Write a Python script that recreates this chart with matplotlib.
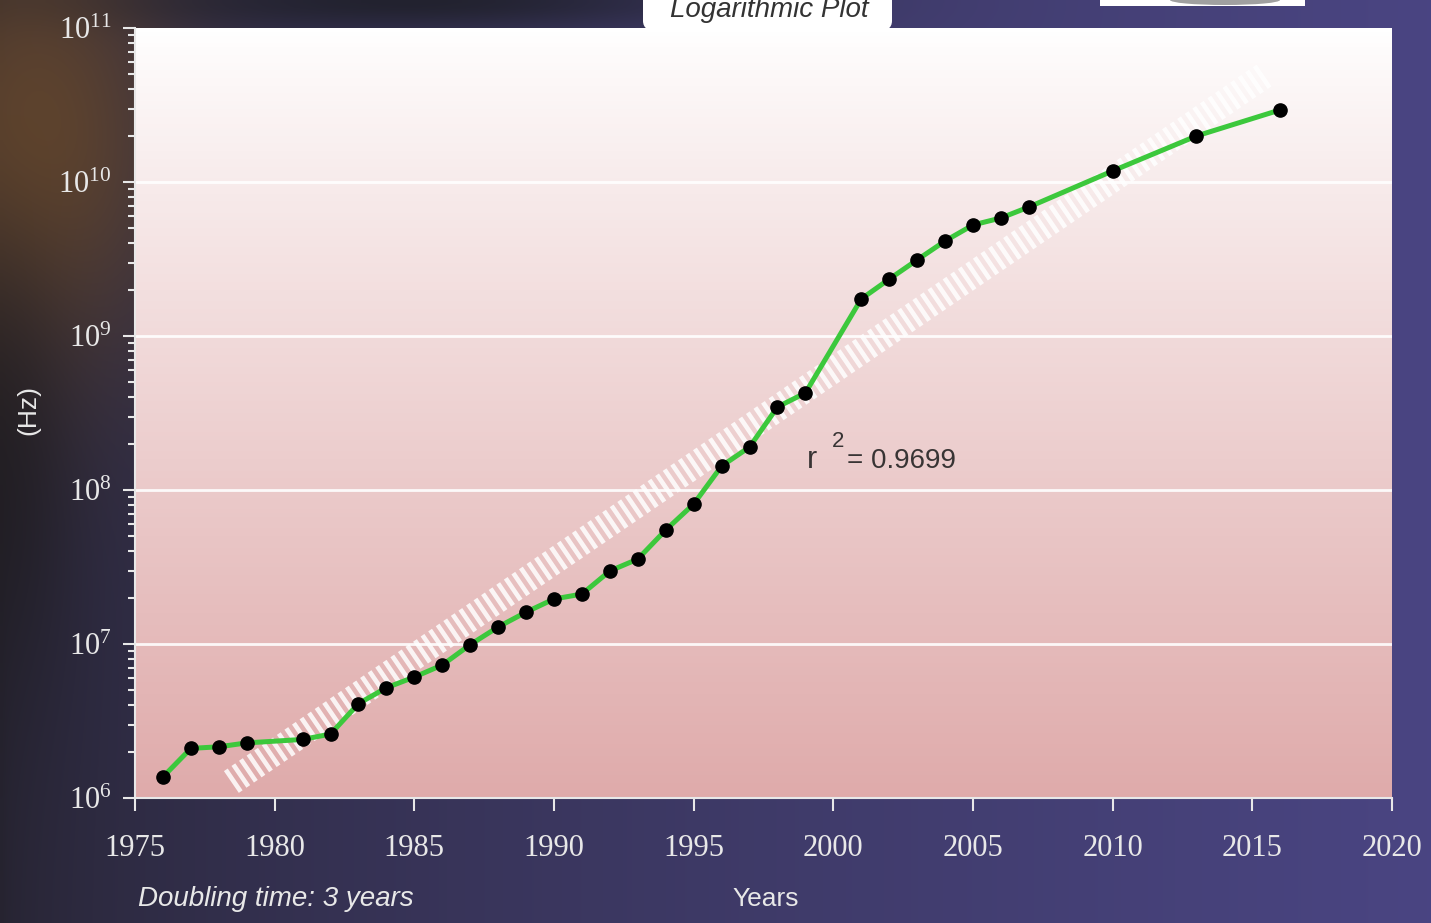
import matplotlib
matplotlib.use("Agg")
import matplotlib.pyplot as plt
import numpy as np
from matplotlib.patches import FancyBboxPatch, Rectangle, Ellipse
from matplotlib.ticker import LogLocator, FuncFormatter

# clock speed data
years = [1976, 1977, 1978, 1979, 1981, 1982, 1983, 1984, 1985, 1986, 1987, 1988,
         1989, 1990, 1991, 1992, 1993, 1994, 1995, 1996, 1997, 1998, 1999, 2001,
         2002, 2003, 2004, 2005, 2006, 2007, 2010, 2013, 2016]
hz = [1.37e6, 2.1e6, 2.15e6, 2.28e6, 2.4e6, 2.6e6, 4.1e6, 5.2e6, 6.1e6, 7.3e6,
      9.9e6, 1.29e7, 1.61e7, 1.96e7, 2.11e7, 2.98e7, 3.56e7, 5.5e7, 8.1e7, 1.43e8,
      1.9e8, 3.46e8, 4.27e8, 1.74e9, 2.34e9, 3.12e9, 4.14e9, 5.26e9, 5.84e9,
      6.88e9, 1.18e10, 1.99e10, 2.94e10]

# fitted trend (drawn as the hatched band)
fit_years = [1978.45, 2015.45]
fit_hz = [1.27e6, 4.96e10]

x_ticks = [1975, 1980, 1985, 1990, 1995, 2000, 2005, 2010, 2015, 2020]
r2_text = "= 0.9699"

W, H = 1431, 923

def fx(px):
	return px / W

def fy(py):
	return 1 - py / H

plt.rcParams['font.family'] = 'Liberation Serif'
plt.rcParams['mathtext.fontset'] = 'custom'
plt.rcParams['mathtext.rm'] = 'Liberation Serif'
plt.rcParams['lines.scale_dashes'] = False

fig = plt.figure(figsize=(W / 100, H / 100), dpi=100)

# page background
bg = fig.add_axes([0, 0, 1, 1], zorder=-5)
xx, yy = np.meshgrid(np.linspace(0, 1, 286), np.linspace(0, 1, 185))
c_left = np.array([0.15, 0.14, 0.19])
c_right = np.array([0.29, 0.27, 0.51])
t = (xx ** 0.6)[..., None]
img = c_left * (1 - t) + c_right * t
blob = np.exp(-(((xx - 0.02) / 0.1) ** 2 + ((yy - 0.15) / 0.25) ** 2))[..., None]
img = img * (1 - blob) + np.array([0.38, 0.27, 0.18]) * blob
strip = np.exp(-(((xx - 0.0) / 0.05) ** 2 + ((yy - 0.5) / 0.25) ** 2))[..., None]
img = img * (1 - 0.6 * strip) + np.array([0.11, 0.10, 0.11]) * 0.6 * strip
topband = np.exp(-((yy - 0.0) / 0.03) ** 2)[..., None] * np.exp(-((xx - 0.3) / 0.2) ** 2)[..., None]
img = img * (1 - 0.6 * topband) + np.array([0.08, 0.09, 0.08]) * 0.6 * topband
bg.imshow(np.clip(img, 0, 1), extent=[0, 1, 0, 1], aspect='auto', interpolation='bilinear')
bg.set_xlim(0, 1)
bg.set_ylim(0, 1)
bg.axis('off')

pos = [fx(135), fy(798), fx(1392) - fx(135), fy(28) - fy(798)]

# plot area gradient
grad_ax = fig.add_axes(pos, zorder=-1)
g = np.linspace(0, 1, 200)[:, None]
top = np.array([1.0, 1.0, 1.0])
bottom = np.array([0.875, 0.67, 0.67])
grad = top * (1 - g[..., None] ** 0.9) + bottom * g[..., None] ** 0.9
grad_ax.imshow(np.repeat(grad, 2, axis=1), extent=[0, 1, 0, 1], aspect='auto')
grad_ax.axis('off')

ax = fig.add_axes(pos)
ax.set_facecolor('none')
ax.set_yscale('log')
ax.set_xlim(1975, 2020)
ax.set_ylim(1e6, 1e11)

ax.grid(axis='y', which='major', color='white', linewidth=2, alpha=0.9)
ax.set_axisbelow(True)

ax.plot(fit_years, fit_hz, color='white', alpha=0.85, linewidth=19,
	dashes=(3.3, 3.3), dash_capstyle='butt', solid_capstyle='butt', zorder=2)
ax.plot(years, hz, color='#3cc83c', linewidth=3.6, zorder=3)
ax.plot(years, hz, linestyle='none', marker='o', markersize=9.5, color='black', zorder=4)

ax.set_xticks(x_ticks)
ax.yaxis.set_major_locator(LogLocator(base=10, numticks=10))
ax.yaxis.set_minor_locator(LogLocator(base=10, subs=np.arange(2, 10), numticks=20))
ax.yaxis.set_major_formatter(FuncFormatter(lambda v, p: r"$\mathrm{10^{%d}}$" % round(np.log10(v))))
ax.yaxis.set_minor_formatter(FuncFormatter(lambda v, p: ""))
ax.tick_params(axis='both', which='major', direction='out', length=9, width=1.5,
	color='#e8e8e8', labelcolor='#e8e8e8', labelsize=22)
ax.tick_params(axis='y', which='minor', direction='out', length=5, width=1.5, color='#e8e8e8')
ax.tick_params(axis='x', which='major', pad=17)
ax.tick_params(axis='y', which='major', pad=8)
for s in ['top', 'right']:
	ax.spines[s].set_visible(False)
for s in ['left', 'bottom']:
	ax.spines[s].set_color('#e8e8e8')
	ax.spines[s].set_linewidth(1.5)

# r squared annotation
fig.text(fx(807), fy(468), "r", fontsize=22, color='#383434', family='Liberation Sans', va='baseline')
fig.text(fx(832), fy(447), "2", fontsize=16, color='#383434', family='Liberation Sans', va='baseline')
fig.text(fx(847), fy(468), r2_text, fontsize=20, color='#383434', family='Liberation Sans', va='baseline')

# axis labels and notes
fig.text(fx(766), fy(899), "Years", fontsize=19, color='#e8e8e8', family='Liberation Sans',
	ha='center', va='center')
fig.text(fx(28), fy(410), "(Hz)", fontsize=19, color='#e8e8e8', family='Liberation Sans',
	ha='center', va='center', rotation=90)
fig.text(fx(138), fy(899), "Doubling time: 3 years", fontsize=20, color='#e8e8e8',
	family='Liberation Sans', style='italic', ha='left', va='center')

# tab with title, cut off at the top as in the source
tab = FancyBboxPatch((fx(643), fy(32)), fx(892) - fx(643), fy(-20) - fy(32),
	boxstyle='round,pad=0,rounding_size=0.012', transform=fig.transFigure,
	facecolor='white', edgecolor='none', zorder=5)
fig.add_artist(tab)
fig.text(fx(769), fy(17), "Logarithmic Plot", fontsize=20, color='#333333',
	family='Liberation Sans', style='italic', ha='center', va='baseline', zorder=6)

# corner of a picture at top right
fig.add_artist(Rectangle((fx(1100), fy(6)), fx(1305) - fx(1100), fy(-2) - fy(6),
	transform=fig.transFigure, facecolor='white', edgecolor='none', zorder=5))
fig.add_artist(Ellipse((fx(1225), fy(0)), fx(110), 10 / H, transform=fig.transFigure,
	facecolor='#a0a0a0', edgecolor='none', zorder=6))

fig.savefig("out.png", dpi=100)
